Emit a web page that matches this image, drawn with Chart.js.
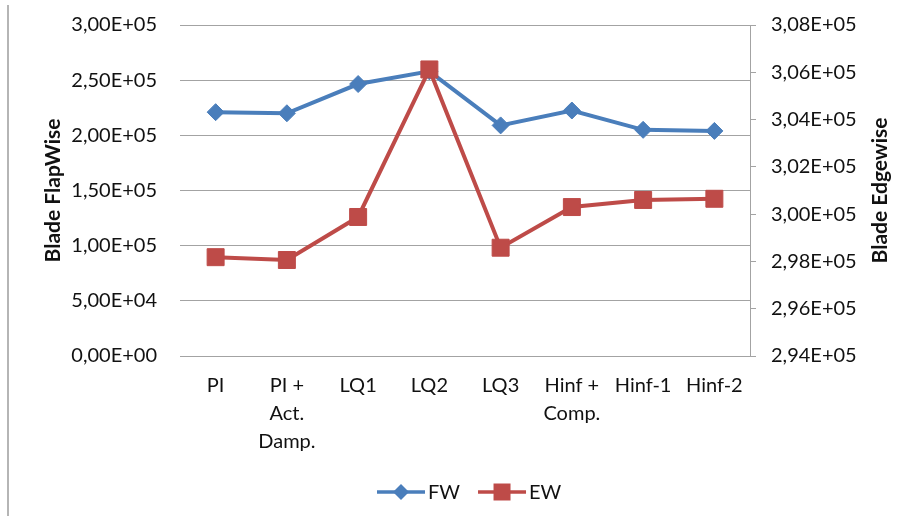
<!DOCTYPE html>
<html>
<head>
<meta charset="utf-8">
<script src="https://cdn.jsdelivr.net/npm/chart.js@4.4.1/dist/chart.umd.min.js"></script>
<style>
  html, body { margin: 0; padding: 0; background: #fff; }
  #wrap { position: relative; width: 912px; height: 524px; }
</style>
</head>
<body>
<div id="wrap"><canvas id="bladeChart" width="912" height="524"></canvas></div>
<script>
// controller variants on the x axis
const categories = [
  ['PI'],
  ['PI +', 'Act.', 'Damp.'],
  ['LQ1'],
  ['LQ2'],
  ['LQ3'],
  ['Hinf +', 'Comp.'],
  ['Hinf-1'],
  ['Hinf-2']
];

// blade loads
const flapWise = [221000, 220000, 246500, 258000, 209000, 222500, 205000, 204000];
const edgeWise = [298180, 298060, 299880, 306120, 298580, 300300, 300600, 300650];

// axis ranges
const flapRange = { min: 0, max: 300000, step: 50000 };
const edgeRange = { min: 294000, max: 308000, step: 2000 };

const BLUE = '#4a7ebb';
const RED = '#be4b48';
const GRID = '#a3a3a3';
const TEXT = '#111';
const FONT = 'Lato, "Open Sans", sans-serif';

Chart.defaults.font.family = FONT;
Chart.defaults.font.size = 20;
Chart.defaults.color = TEXT;

// 3,00E+05 style labels
function sciComma(v) {
  const parts = Number(v).toExponential(2).split('e');
  const exp = Number(parts[1]);
  return parts[0].replace('.', ',') + 'E' + (exp < 0 ? '-' : '+') + String(Math.abs(exp)).padStart(2, '0');
}

// fixed-size side axes so the plot box stays put
function sideAxisFit(width) {
  return function (scale) {
    scale.width = width;
    scale.paddingTop = 0;
    scale.paddingBottom = 0;
  };
}

// legend swatches: a short line with the series marker on it
function drawSwatch(ctx, x, y, color, marker) {
  ctx.save();
  ctx.strokeStyle = color;
  ctx.fillStyle = color;
  ctx.lineWidth = 3.5;
  ctx.beginPath();
  ctx.moveTo(x, y);
  ctx.lineTo(x + 48, y);
  ctx.stroke();
  const cx = x + 24;
  ctx.beginPath();
  if (marker === 'diamond') {
    ctx.moveTo(cx, y - 8);
    ctx.lineTo(cx + 8, y);
    ctx.lineTo(cx, y + 8);
    ctx.lineTo(cx - 8, y);
    ctx.closePath();
  } else {
    ctx.rect(cx - 8.5, y - 8.5, 17, 17);
  }
  ctx.fill();
  ctx.restore();
}

const extras = {
  id: 'extras',
  afterDraw(chart) {
    const ctx = chart.ctx;
    const area = chart.chartArea;
    ctx.save();

    // chart frame edge on the left
    ctx.strokeStyle = '#9c9c9c';
    ctx.lineWidth = 1.5;
    ctx.beginPath();
    ctx.moveTo(8, 5);
    ctx.lineTo(8, 516);
    ctx.stroke();

    // right axis title, reading bottom to top
    ctx.fillStyle = TEXT;
    ctx.font = 'bold 21px ' + FONT;
    ctx.textAlign = 'center';
    ctx.textBaseline = 'middle';
    ctx.translate(880, (area.top + area.bottom) / 2);
    ctx.rotate(-Math.PI / 2);
    ctx.fillText('Blade Edgewise', 0, 0);
    ctx.restore();

    // legend
    ctx.save();
    ctx.font = '20px ' + FONT;
    ctx.fillStyle = TEXT;
    ctx.textAlign = 'left';
    ctx.textBaseline = 'middle';
    const ly = 492;
    let lx = 377;
    drawSwatch(ctx, lx, ly, BLUE, 'diamond');
    ctx.fillText('FW', lx + 51, ly + 1);
    lx += 51 + ctx.measureText('FW').width + 18;
    drawSwatch(ctx, lx, ly, RED, 'square');
    ctx.fillText('EW', lx + 51, ly + 1);
    ctx.restore();
  }
};

new Chart(document.getElementById('bladeChart'), {
  type: 'line',
  data: {
    labels: categories,
    datasets: [
      {
        label: 'FW',
        data: flapWise,
        yAxisID: 'y',
        borderColor: BLUE,
        backgroundColor: BLUE,
        borderWidth: 4,
        pointStyle: 'rectRot',
        pointRadius: 8.5,
        pointHoverRadius: 8.5,
        pointBorderWidth: 1,
        pointBorderColor: BLUE,
        tension: 0,
        order: 1
      },
      {
        label: 'EW',
        data: edgeWise,
        yAxisID: 'y1',
        borderColor: RED,
        backgroundColor: RED,
        borderWidth: 4,
        pointStyle: 'rect',
        pointRadius: 12,
        pointHoverRadius: 12,
        pointBorderWidth: 1,
        pointBorderColor: RED,
        tension: 0,
        order: 0
      }
    ]
  },
  options: {
    responsive: false,
    animation: false,
    layout: { padding: { top: 25, left: 0, right: 0, bottom: 0 } },
    plugins: {
      legend: { display: false },
      tooltip: { enabled: false }
    },
    scales: {
      x: {
        offset: true,
        grid: { display: false, drawTicks: false },
        border: { display: true, color: GRID, width: 1 },
        ticks: { autoSkip: false, maxRotation: 0, padding: 16, font: { size: 20, lineHeight: 1.4 } },
        afterFit(scale) { scale.height = 168; }
      },
      y: {
        position: 'left',
        min: flapRange.min,
        max: flapRange.max,
        grid: { color: GRID, lineWidth: 1, drawTicks: false },
        border: { display: false },
        ticks: { stepSize: flapRange.step, padding: 23, callback: sciComma },
        title: {
          display: true,
          text: 'Blade FlapWise',
          font: { size: 21, weight: 'bold' },
          padding: { top: 41, bottom: 0 }
        },
        afterFit: sideAxisFit(180)
      },
      y1: {
        position: 'right',
        min: edgeRange.min,
        max: edgeRange.max,
        grid: { drawOnChartArea: false, drawTicks: true, tickLength: 6, color: GRID },
        border: { display: true, color: GRID, width: 1 },
        ticks: { stepSize: edgeRange.step, padding: 15, callback: sciComma },
        afterFit: sideAxisFit(162)
      }
    }
  },
  plugins: [extras]
});
</script>
</body>
</html>
